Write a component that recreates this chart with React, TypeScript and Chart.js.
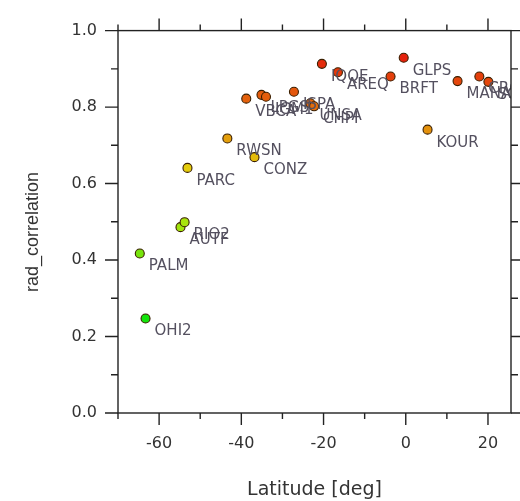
import React, { useEffect, useRef } from "react";
import { Chart, registerables } from "chart.js";
Chart.register(...registerables);

const stations = ["OHI2", "PALM", "AUTF", "RIO2", "PARC", "RWSN", "CONZ", "VBCA", "LPGS", "IGM1", "ISPA", "UNSA", "CHPI", "IQQE", "AREQ", "BRFT", "GLPS", "KOUR", "MANA", "CRO1", "SCUB"];
const latitudes = [-63.3, -64.7, -54.8, -53.8, -53.1, -43.4, -36.8, -38.8, -35.1, -34.0, -27.2, -23.2, -22.3, -20.4, -16.5, -3.7, -0.5, 5.3, 12.6, 17.9, 20.1];
const radCorrelation = [0.247, 0.417, 0.486, 0.499, 0.641, 0.718, 0.669, 0.822, 0.832, 0.827, 0.84, 0.81, 0.802, 0.913, 0.891, 0.88, 0.929, 0.741, 0.868, 0.88, 0.866];
const xTickLabels = [-60, -40, -20, 0, 20];
const yTickLabels = [0, 0.2, 0.4, 0.6, 0.8, 1.0];
const xMinorTicks = [-70, -50, -30, -10, 10];
const yMinorTicks = [0.1, 0.3, 0.5, 0.7, 0.9];
const X_MIN = -70;
const X_MAX = 25.6;

function colorFor(v: number): string {
  const hue = Math.max(0, Math.min(120, 118 - ((v - 0.247) / 0.683) * 112));
  return `hsl(${hue}, 90%, 47%)`;
}

const boxPlugin = {
  id: "boxAndLabels",
  afterDatasetsDraw(chart: any) {
    const { ctx, chartArea } = chart;
    const meta = chart.getDatasetMeta(0);
    ctx.save();
    ctx.beginPath();
    ctx.rect(chartArea.left, chartArea.top, chartArea.right - chartArea.left, chartArea.bottom - chartArea.top);
    ctx.clip();
    ctx.font = "15px 'DejaVu Sans'";
    ctx.fillStyle = "#54505f";
    ctx.textAlign = "left";
    ctx.textBaseline = "middle";
    meta.data.forEach((pt: any, i: number) => {
      ctx.fillText(stations[i], pt.x + 9, pt.y + 13);
    });
    ctx.restore();
  },
  afterDraw(chart: any) {
    const { ctx, chartArea, scales } = chart;
    const { left, right, top, bottom } = chartArea;
    ctx.save();
    ctx.strokeStyle = "#222";
    ctx.lineWidth = 1.4;
    ctx.strokeRect(left, top, right - left, bottom - top);
    ctx.beginPath();
    const xs = scales.x;
    const ys = scales.y;
    const xt = (v: number, len: number) => {
      const px = xs.getPixelForValue(v);
      ctx.moveTo(px, bottom);
      ctx.lineTo(px, bottom + len);
      ctx.moveTo(px, top);
      ctx.lineTo(px, top - len);
    };
    const yt = (v: number, len: number) => {
      const py = ys.getPixelForValue(v);
      ctx.moveTo(left, py);
      ctx.lineTo(left - len, py);
      ctx.moveTo(right, py);
      ctx.lineTo(right + len, py);
    };
    xTickLabels.forEach((v) => xt(v, 12));
    xMinorTicks.forEach((v) => xt(v, 6));
    yTickLabels.forEach((v) => yt(v, 13));
    yMinorTicks.forEach((v) => yt(v, 7));
    ctx.stroke();
    ctx.translate(33, 232);
    ctx.rotate(-Math.PI / 2);
    ctx.font = "18px 'Liberation Sans'";
    ctx.fillStyle = "#333";
    ctx.textAlign = "center";
    ctx.textBaseline = "middle";
    ctx.fillText("rad_correlation", 0, 0);
    ctx.restore();
  },
};

export default function App() {
  const ref = useRef<HTMLCanvasElement | null>(null);
  useEffect(() => {
    if (!ref.current) return;
    const points = latitudes.map((x, i) => ({ x, y: radCorrelation[i] }));
    const chart = new Chart(ref.current, {
      type: "scatter",
      data: {
        datasets: [
          {
            data: points,
            backgroundColor: radCorrelation.map(colorFor),
            borderColor: "#3a1f00",
            borderWidth: 1.1,
            pointRadius: 4.5,
          },
        ],
      },
      options: {
        animation: false,
        responsive: true,
        maintainAspectRatio: false,
        layout: { padding: 0 },
        plugins: { legend: { display: false }, tooltip: { enabled: false } },
        scales: {
          x: {
            type: "linear",
            position: "bottom",
            min: X_MIN,
            max: X_MAX,
            grid: { display: false, drawTicks: false },
            border: { display: false },
            afterBuildTicks: (s: any) => {
              s.ticks = xTickLabels.map((v) => ({ value: v }));
            },
            afterFit: (s: any) => {
              s.height = 88;
            },
            ticks: {
              padding: 21,
              color: "#333",
              font: { family: "'DejaVu Sans'", size: 16 },
              callback: (v: any) => String(v),
              maxRotation: 0,
            },
            title: {
              display: true,
              text: "Latitude [deg]",
              color: "#333",
              font: { family: "'DejaVu Sans'", size: 19 },
              padding: 0,
            },
          },
          xTop: {
            type: "linear",
            position: "top",
            min: X_MIN,
            max: X_MAX,
            grid: { display: false, drawTicks: false },
            border: { display: false },
            ticks: { display: false },
            afterFit: (s: any) => {
              s.height = 20;
            },
          },
          y: {
            type: "linear",
            position: "left",
            min: 0,
            max: 1,
            grid: { display: false, drawTicks: false },
            border: { display: false },
            afterBuildTicks: (s: any) => {
              s.ticks = yTickLabels.map((v) => ({ value: v }));
            },
            afterFit: (s: any) => {
              s.width = 118;
            },
            ticks: {
              padding: 21,
              color: "#333",
              font: { family: "'DejaVu Sans'", size: 16 },
              callback: (v: any) => Number(v).toFixed(1),
            },
          },
          yRight: {
            type: "linear",
            position: "right",
            min: 0,
            max: 1,
            grid: { display: false, drawTicks: false },
            border: { display: false },
            ticks: { display: false },
            afterFit: (s: any) => {
              s.width = 9;
            },
          },
        },
      },
      plugins: [boxPlugin],
    });
    return () => chart.destroy();
  }, []);
  return (
    <div style={{ position: "absolute", left: 0, top: 0, width: 520, height: 501, background: "#fff" }}>
      <canvas ref={ref} />
    </div>
  );
}
